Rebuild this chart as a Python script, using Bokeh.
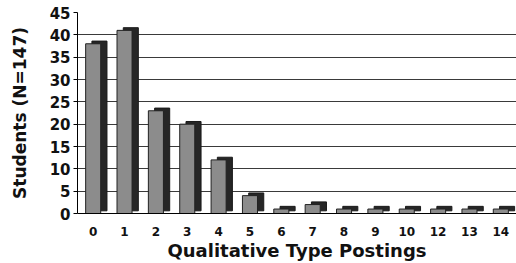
from bokeh.plotting import figure
from bokeh.models import ColumnDataSource, FactorRange, Range1d
from bokeh.transform import dodge
from bokeh.embed import file_html
from bokeh.resources import INLINE

# Data
postings = ["0", "1", "2", "3", "4", "5", "6", "7", "8", "9", "10", "12", "13", "14"]
students = [38, 41, 23, 20, 12, 4, 1, 2, 1, 1, 1, 1, 1, 1]
y_ticks = [0, 5, 10, 15, 20, 25, 30, 35, 40, 45]

source = ColumnDataSource(data=dict(cat=postings, val=students))

p = figure(
    x_range=FactorRange(*postings, range_padding=0),
    y_range=Range1d(0, 45),
    width=516, height=263,
    output_backend="svg", toolbar_location=None,
    min_border_left=77, min_border_right=0, min_border_top=12, min_border_bottom=50,
)
p.outline_line_color = None
p.background_fill_color = "white"

# 3D-like back/side of the bars
p.vbar(x=dodge("cat", 0.2, range=p.x_range), top=dodge("val", 0.6), bottom=0.6,
       width=0.48, source=source, fill_color="#262626", line_color="#1a1a1a")
# front face
p.vbar(x=dodge("cat", 0.0, range=p.x_range), top="val", bottom=0, width=0.48,
       source=source, fill_color="#8c8c8c", line_color="#222222", line_width=1)

p.xgrid.grid_line_color = None
p.ygrid.grid_line_color = "#3a3a3a"
p.ygrid.grid_line_width = 1
p.yaxis.ticker = y_ticks

p.yaxis.axis_label = "Students (N=147)"
p.xaxis.axis_label = "Qualitative Type Postings"

for ax in (p.xaxis[0], p.yaxis[0]):
    ax.axis_line_color = "black"
    ax.major_label_text_font = "DejaVu Sans"
    ax.major_label_text_font_style = "bold"
    ax.major_label_text_color = "#111111"
    ax.axis_label_text_font = "DejaVu Sans"
    ax.axis_label_text_font_style = "bold"
    ax.axis_label_text_color = "#111111"
    ax.minor_tick_line_color = None

p.yaxis.major_label_text_font_size = "15px"
p.yaxis.major_tick_out = 4
p.yaxis.major_tick_in = 0
p.yaxis.major_tick_line_color = "black"
p.yaxis.major_label_standoff = 3
p.yaxis.axis_label_text_font_size = "17px"
p.yaxis.axis_label_standoff = 17

p.xaxis.major_label_text_font_size = "12px"
p.xaxis.major_tick_line_color = None
p.xaxis.major_label_standoff = 7
p.xaxis.axis_label_text_font_size = "18px"
p.xaxis.axis_label_standoff = 1

open("out.html", "w").write(file_html(p, INLINE))
